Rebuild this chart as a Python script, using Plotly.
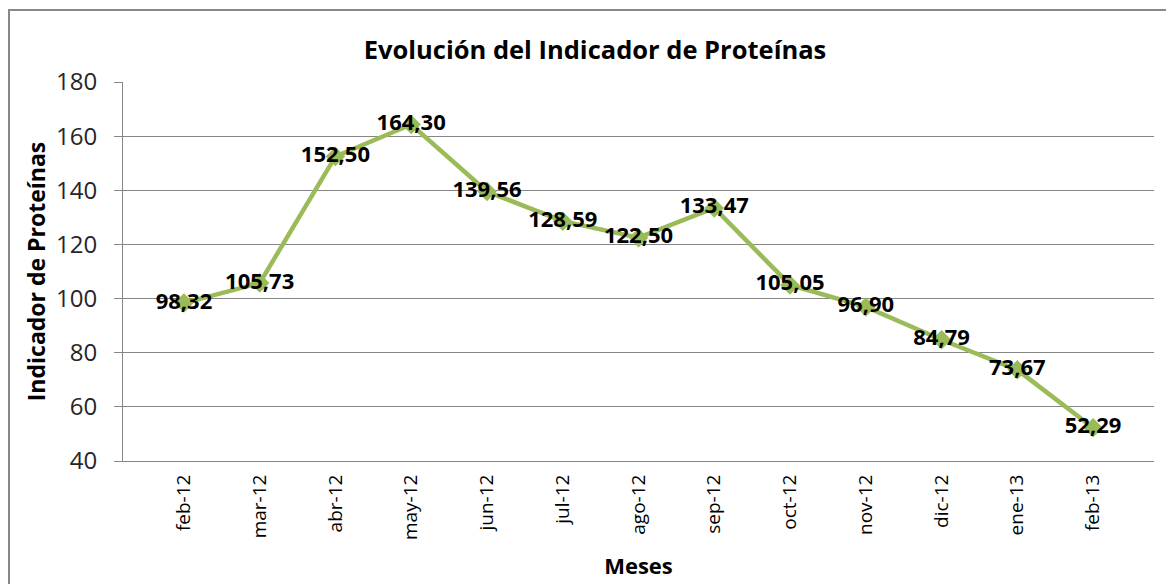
import plotly.graph_objects as go

meses = ["feb-12", "mar-12", "abr-12", "may-12", "jun-12", "jul-12", "ago-12",
         "sep-12", "oct-12", "nov-12", "dic-12", "ene-13", "feb-13"]
indicador = [98.32, 105.73, 152.50, 164.30, 139.56, 128.59, 122.50,
             133.47, 105.05, 96.90, 84.79, 73.67, 52.29]
y_ticks = [40, 60, 80, 100, 120, 140, 160, 180]

FONT = "Open Sans"
GREEN = "#9BBB59"

L, R, T, B = 115, 28, 74, 131
W, H = 1174, 584
PW, PH = W - L - R, H - T - B

fig = go.Figure()
fig.add_trace(go.Scatter(
    x=meses, y=indicador,
    mode="lines+markers+text",
    line=dict(color=GREEN, width=4.5),
    marker=dict(symbol="diamond", size=15, color=GREEN),
    texttemplate="%{y:.2f}",
    textposition="middle center",
    textfont=dict(family=FONT, size=22, color="#000000", weight="bold"),
    cliponaxis=False,
    hoverinfo="skip",
))

fig.update_layout(
    width=W, height=H,
    separators=",.",
    paper_bgcolor="white", plot_bgcolor="white",
    margin=dict(l=L, r=R, t=T, b=B),
    showlegend=False,
    title=dict(text="<b>Evolución del Indicador de Proteínas</b>",
               x=0.5, xanchor="center", y=0.928, yanchor="middle",
               font=dict(family=FONT, size=25.5, color="#000000")),
    xaxis=dict(
        type="category",
        tickangle=-90,
        tickfont=dict(family=FONT, size=19, color="#000000"),
        showgrid=False,
        showline=True, linecolor="#868686", linewidth=1,
        ticks="", ticklabelstandoff=5,
        title=dict(text="<b>Meses</b>", font=dict(family=FONT, size=22, color="#000000"),
                   standoff=19),
    ),
    yaxis=dict(
        range=[40, 180],
        tickvals=y_ticks,
        tickfont=dict(family=FONT, size=24, color="#262626"),
        showgrid=True, gridcolor="#868686", gridwidth=1,
        showline=True, linecolor="#868686", linewidth=1,
        ticks="outside", ticklen=8, tickcolor="#868686",
        ticklabelstandoff=12,
        zeroline=False,
        title=dict(text="<b>Indicador de Proteínas</b>",
                   font=dict(family=FONT, size=23, color="#000000"), standoff=3),
    ),
    shapes=[dict(type="rect", xref="paper", yref="paper",
                 x0=(1 - L) / PW, x1=(W + 20 - L) / PW,
                 y0=-(B + 20) / PH, y1=(PH + T - 2) / PH,
                 line=dict(color="#888888", width=2), fillcolor="rgba(0,0,0,0)",
                 layer="below")],
)

fig.write_html("out.html")
